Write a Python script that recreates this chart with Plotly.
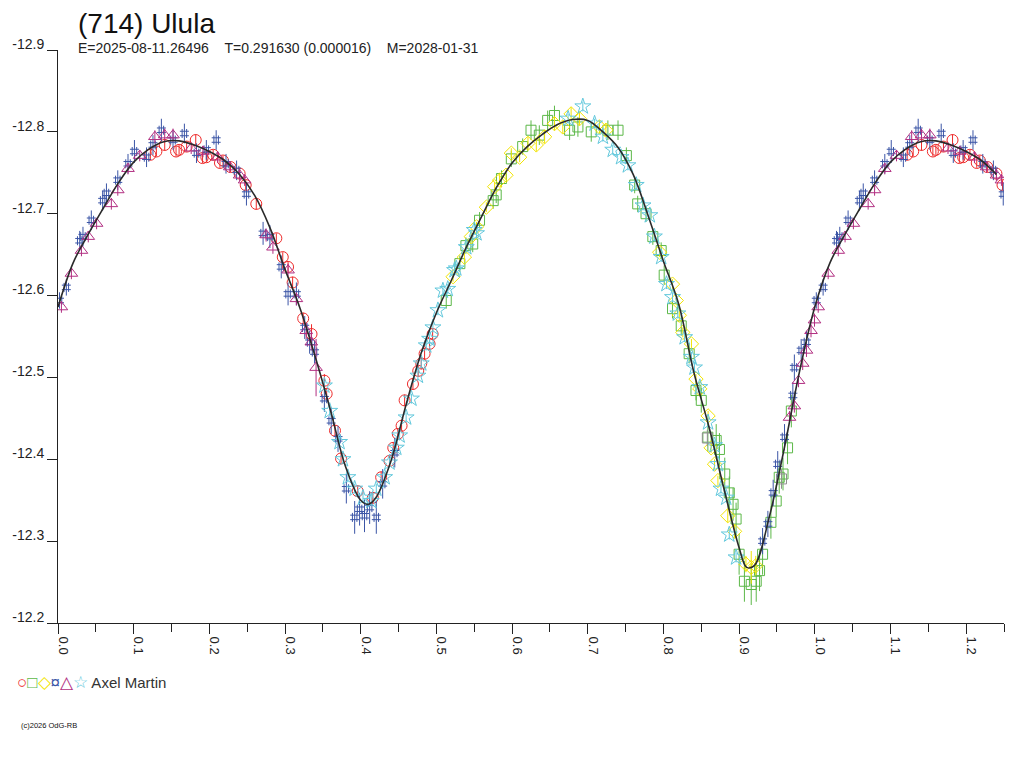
import plotly.graph_objects as go

# session 1 - red circles
red_phase = [0.122, 0.130, 0.141, 0.156, 0.160, 0.170, 0.182, 0.191, 0.196, 0.205,
             0.214, 0.218, 0.228, 0.240, 0.248, 0.262, 0.2885, 0.297, 0.304, 0.310,
             0.324, 0.335, 0.352, 0.355, 0.366, 0.374, 0.396, 0.416, 0.427, 0.438,
             0.443, 0.449, 0.454, 0.458, 0.469, 0.476, 0.480, 0.4844, 0.491, 0.495]
red_mag = [-12.772, -12.776, -12.784, -12.776, -12.778, -12.782, -12.790, -12.768, -12.769, -12.772,
           -12.762, -12.765, -12.757, -12.749, -12.735, -12.712, -12.670, -12.647, -12.635, -12.616,
           -12.572, -12.553, -12.496, -12.480, -12.435, -12.401, -12.361, -12.353, -12.378, -12.398,
           -12.414, -12.431, -12.441, -12.472, -12.492, -12.508, -12.517, -12.529, -12.541, -12.553]
red_err = [0.006, 0.006, 0.007, 0.006, 0.006, 0.006, 0.007, 0.006, 0.006, 0.006,
           0.006, 0.006, 0.006, 0.006, 0.006, 0.007, 0.006, 0.006, 0.006, 0.007,
           0.007, 0.012, 0.008, 0.007, 0.007, 0.007, 0.007, 0.007, 0.007, 0.007,
           0.007, 0.007, 0.007, 0.007, 0.007, 0.007, 0.007, 0.007, 0.007, 0.007]

# session 2 - green squares
green_phase = [0.513, 0.531, 0.539, 0.548, 0.557, 0.575, 0.579, 0.586, 0.599, 0.614,
               0.625, 0.636, 0.647, 0.656, 0.676, 0.687, 0.7046, 0.7266, 0.740, 0.751,
               0.762, 0.766, 0.777, 0.786, 0.797, 0.801, 0.812, 0.8235, 0.834, 0.843,
               0.850, 0.8587, 0.8697, 0.874, 0.881, 0.887, 0.892, 0.896, 0.900, 0.907,
               0.916, 0.9226, 0.927, 0.931, 0.942, 0.949, 0.953, 0.958, 0.964, 0.969]
green_mag = [-12.594, -12.639, -12.661, -12.663, -12.692, -12.716, -12.723, -12.743, -12.767, -12.782,
             -12.802, -12.796, -12.814, -12.820, -12.802, -12.806, -12.800, -12.802, -12.802, -12.771,
             -12.735, -12.712, -12.700, -12.672, -12.655, -12.625, -12.584, -12.563, -12.529, -12.484,
             -12.472, -12.427, -12.423, -12.412, -12.382, -12.359, -12.345, -12.327, -12.284, -12.251,
             -12.247, -12.251, -12.264, -12.284, -12.323, -12.349, -12.378, -12.382, -12.414, -12.459]
green_err = [0.010, 0.010, 0.010, 0.010, 0.010, 0.010, 0.010, 0.010, 0.010, 0.010,
             0.012, 0.012, 0.012, 0.012, 0.012, 0.012, 0.012, 0.012, 0.012, 0.010,
             0.010, 0.010, 0.010, 0.010, 0.010, 0.012, 0.012, 0.012, 0.012, 0.012,
             0.015, 0.018, 0.020, 0.020, 0.020, 0.020, 0.020, 0.020, 0.025, 0.025,
             0.025, 0.025, 0.025, 0.025, 0.020, 0.020, 0.020, 0.020, 0.020, 0.020]

# session 3 - yellow diamonds
yellow_phase = [0.522, 0.537, 0.546, 0.553, 0.566, 0.577, 0.5835, 0.592, 0.599, 0.610,
                0.621, 0.632, 0.643, 0.656, 0.667, 0.678, 0.689, 0.7155, 0.724, 0.795,
                0.812, 0.817, 0.821, 0.8256, 0.837, 0.843, 0.848, 0.859, 0.863, 0.8675,
                0.872, 0.885, 0.894, 0.909, 0.916, 0.922]
yellow_mag = [-12.623, -12.647, -12.672, -12.684, -12.708, -12.733, -12.741, -12.747, -12.774, -12.769,
              -12.786, -12.784, -12.794, -12.810, -12.806, -12.822, -12.816, -12.806, -12.802, -12.653,
              -12.614, -12.594, -12.576, -12.555, -12.541, -12.498, -12.486, -12.453, -12.414, -12.394,
              -12.374, -12.331, -12.312, -12.272, -12.268, -12.270]
yellow_err = [0.006, 0.006, 0.006, 0.006, 0.006, 0.006, 0.006, 0.006, 0.006, 0.006,
              0.008, 0.008, 0.008, 0.008, 0.008, 0.008, 0.008, 0.008, 0.008, 0.006,
              0.006, 0.006, 0.006, 0.006, 0.006, 0.006, 0.006, 0.006, 0.006, 0.006,
              0.006, 0.008, 0.008, 0.010, 0.020, 0.012]

# session 4 - blue
blue_phase = [0.002, 0.011, 0.0287, 0.033, 0.044, 0.059, 0.064, 0.079, 0.0925, 0.101,
              0.117, 0.1255, 0.1366, 0.152, 0.167, 0.183, 0.196, 0.209, 0.222, 0.236,
              0.249, 0.271, 0.280, 0.295, 0.304, 0.315, 0.326, 0.3325, 0.339, 0.352,
              0.361, 0.370, 0.381, 0.392, 0.3985, 0.405, 0.4118, 0.4206, 0.429, 0.445,
              0.931, 0.938, 0.945, 0.951, 0.960, 0.971, 0.973, 0.982, 0.989]
blue_mag = [-12.594, -12.610, -12.667, -12.672, -12.692, -12.716, -12.725, -12.741, -12.761, -12.776,
            -12.769, -12.784, -12.802, -12.790, -12.798, -12.774, -12.778, -12.790, -12.761, -12.753,
            -12.724, -12.676, -12.672, -12.635, -12.602, -12.602, -12.561, -12.543, -12.531, -12.474,
            -12.447, -12.425, -12.364, -12.329, -12.339, -12.331, -12.341, -12.329, -12.370, -12.408,
            -12.300, -12.321, -12.359, -12.394, -12.427, -12.478, -12.512, -12.533, -12.543]
blue_err = [0.010, 0.010, 0.012, 0.012, 0.012, 0.012, 0.012, 0.012, 0.012, 0.014,
            0.012, 0.012, 0.014, 0.012, 0.012, 0.012, 0.012, 0.012, 0.012, 0.012,
            0.014, 0.014, 0.014, 0.014, 0.014, 0.014, 0.014, 0.014, 0.014, 0.016,
            0.016, 0.016, 0.018, 0.020, 0.020, 0.020, 0.020, 0.020, 0.018, 0.018,
            0.016, 0.016, 0.016, 0.016, 0.016, 0.016, 0.016, 0.014, 0.014]

# session 5 - purple triangles
purple_phase = [0.0045, 0.0177, 0.031, 0.040, 0.051, 0.0705, 0.079, 0.0925, 0.108, 0.128,
                0.141, 0.152, 0.176, 0.1915, 0.211, 0.227, 0.240, 0.2466, 0.275, 0.284,
                0.304, 0.315, 0.328, 0.3347, 0.341, 0.9666, 0.973, 0.9785, 0.984, 0.989,
                0.995, 0.9996]
purple_mag = [-12.586, -12.627, -12.655, -12.672, -12.688, -12.712, -12.729, -12.755, -12.771, -12.794,
              -12.796, -12.796, -12.780, -12.776, -12.769, -12.757, -12.747, -12.741, -12.674, -12.659,
              -12.631, -12.596, -12.557, -12.543, -12.512, -12.451, -12.465, -12.496, -12.517, -12.533,
              -12.557, -12.570]
purple_err = [0.007, 0.007, 0.007, 0.007, 0.007, 0.007, 0.007, 0.007, 0.007, 0.008,
              0.008, 0.008, 0.007, 0.007, 0.007, 0.007, 0.007, 0.007, 0.008, 0.008,
              0.008, 0.008, 0.010, 0.010, 0.035, 0.008, 0.008, 0.008, 0.008, 0.008,
              0.008, 0.008]

# session 6 - cyan stars
cyan_phase = [0.352, 0.359, 0.372, 0.3765, 0.383, 0.392, 0.403, 0.414, 0.4206, 0.4316,
              0.438, 0.447, 0.4514, 0.460, 0.467, 0.4756, 0.480, 0.4866, 0.491, 0.4954,
              0.502, 0.5086, 0.515, 0.524, 0.5263, 0.5395, 0.550, 0.553, 0.674, 0.6935,
              0.709, 0.720, 0.733, 0.744, 0.753, 0.764, 0.773, 0.782, 0.788, 0.797,
              0.804, 0.812, 0.819, 0.828, 0.837, 0.841, 0.848, 0.859, 0.8675, 0.872,
              0.876, 0.883, 0.887, 0.896]
cyan_mag = [-12.490, -12.459, -12.421, -12.400, -12.378, -12.364, -12.353, -12.349, -12.364, -12.378,
            -12.396, -12.414, -12.429, -12.451, -12.474, -12.502, -12.517, -12.539, -12.547, -12.561,
            -12.582, -12.606, -12.608, -12.631, -12.633, -12.659, -12.680, -12.676, -12.816, -12.831,
            -12.810, -12.794, -12.778, -12.769, -12.759, -12.735, -12.710, -12.698, -12.672, -12.647,
            -12.614, -12.598, -12.578, -12.549, -12.525, -12.512, -12.488, -12.445, -12.417, -12.394,
            -12.364, -12.353, -12.308, -12.280]
cyan_err = [0.006] * len(cyan_phase)

# a few grey squares
grey_phase = [0.858, 0.956]
grey_mag = [-12.426, -12.376]
grey_err = [0.010, 0.012]

# fitted curve
fit_phase = [0.00, 0.02, 0.04, 0.06, 0.08, 0.10, 0.12, 0.14, 0.16, 0.18,
             0.20, 0.22, 0.24, 0.26, 0.28, 0.30, 0.32, 0.34, 0.36, 0.38,
             0.40, 0.41, 0.42, 0.44, 0.46, 0.48, 0.50, 0.52, 0.54, 0.56,
             0.58, 0.60, 0.62, 0.64, 0.66, 0.68, 0.70, 0.72, 0.74, 0.76,
             0.78, 0.80, 0.82, 0.84, 0.86, 0.88, 0.90, 0.91, 0.92, 0.94,
             0.96, 0.98, 1.00]
fit_mag = [-12.586, -12.640, -12.675, -12.707, -12.738, -12.763, -12.779, -12.788, -12.789, -12.784,
           -12.776, -12.765, -12.748, -12.722, -12.683, -12.632, -12.584, -12.525, -12.460, -12.391,
           -12.350, -12.345, -12.353, -12.398, -12.467, -12.530, -12.579, -12.619, -12.660, -12.697,
           -12.733, -12.762, -12.782, -12.797, -12.809, -12.815, -12.814, -12.800, -12.781, -12.748,
           -12.697, -12.642, -12.590, -12.507, -12.440, -12.364, -12.292, -12.268, -12.270, -12.330,
           -12.415, -12.508, -12.586]

y_ticks = [-12.9, -12.8, -12.7, -12.6, -12.5, -12.4, -12.3, -12.2]
y_labels = ['-12.9', '-12.8', '-12.7', '-12.6', '-12.5', '-12.4', '-12.3', '-12.2']

X_MAX = 1.25
# page body has an 8px margin, so the figure is 1008x752 placed at (8, 8)
OFF = 8
W, H = 1008, 752
L, R, T, B = 58 - OFF, W - (1004 - OFF), 50 - OFF, H - (623 - OFF)


def wrap(ph, mg, er):
    # the part of the cycle past phase 1.0 is shown again
    xs, ys, es = list(ph), list(mg), list(er)
    for p, m, e in zip(ph, mg, er):
        if p + 1 <= X_MAX:
            xs.append(p + 1)
            ys.append(m)
            es.append(e)
    return xs, ys, es


sessions = [
    (red_phase, red_mag, red_err, 'circle-open', '#ee2a2a', 11),
    (green_phase, green_mag, green_err, 'square-open', '#5cb848', 10),
    (yellow_phase, yellow_mag, yellow_err, 'diamond-open', '#f2e400', 11),
    (blue_phase, blue_mag, blue_err, 'hash-open', '#3b55a6', 9),
    (purple_phase, purple_mag, purple_err, 'triangle-up-open', '#b22f82', 11),
    (cyan_phase, cyan_mag, cyan_err, 'star-open', '#62c8dc', 12),
    (grey_phase, grey_mag, grey_err, 'square-open', '#909090', 10),
]

fig = go.Figure()
for ph, mg, er, sym, col, sz in sessions:
    xs, ys, es = wrap(ph, mg, er)
    fig.add_trace(go.Scatter(
        x=xs, y=ys, mode='markers',
        marker=dict(symbol=sym, color=col, size=sz, line=dict(width=1, color=col)),
        error_y=dict(type='data', array=es, color=col, thickness=1, width=0),
        hoverinfo='skip'))

fx = list(fit_phase) + [p + 1 for p in fit_phase if 0 < p and p + 1 <= X_MAX]
fy = list(fit_mag) + [m for p, m in zip(fit_phase, fit_mag) if 0 < p and p + 1 <= X_MAX]
fig.add_trace(go.Scatter(x=fx, y=fy, mode='lines', hoverinfo='skip',
                         line=dict(color='#2a2a2a', width=1.6, shape='spline')))


def px(x, y):
    # screen pixel -> paper coords
    x, y = x - OFF, y - OFF
    return (x - L) / (W - L - R), (H - B - y) / (H - T - B)


annotations = []
tx, ty = px(77, 23)
annotations.append(dict(x=tx, y=ty, text='(714) Ulula', font=dict(size=28, color='#111')))
tx, ty = px(77, 48)
annotations.append(dict(x=tx, y=ty, font=dict(size=14, color='#222'),
                        text='E=2025-08-11.26496&nbsp;&nbsp;&nbsp;&nbsp;T=0.291630 (0.000016)&nbsp;&nbsp;&nbsp;&nbsp;M=2028-01-31'))
tx, ty = px(16, 683)
legend_text = ('<span style="font-size:17px"><span style="color:#ee2a2a">○</span><span style="color:#5cb848">□</span>'
               '<span style="color:#f2e400">◇</span><span style="color:#3b55a6">¤</span>'
               '<span style="color:#b22f82">△</span><span style="color:#62c8dc">☆</span></span> Axel Martin')
annotations.append(dict(x=tx, y=ty, text=legend_text, font=dict(size=15, color='#333')))
tx, ty = px(20, 725)
annotations.append(dict(x=tx, y=ty, text='(c)2026 OdG-RB', font=dict(size=7.5, color='#111')))
for a in annotations:
    a.update(xref='paper', yref='paper', xanchor='left', yanchor='middle', showarrow=False,
             borderpad=0)

fig.update_layout(
    width=W, height=H,
    margin=dict(l=L, r=R, t=T, b=B, autoexpand=False),
    paper_bgcolor='white', plot_bgcolor='white',
    showlegend=False,
    font=dict(family='Liberation Sans, Arial, sans-serif', color='#222'),
    annotations=annotations,
    xaxis=dict(range=[0, X_MAX], tick0=0, dtick=0.1, tickformat='.1f', tickangle=90,
               ticks='outside', ticklen=10, tickcolor='#222', showline=True, linecolor='#222',
               showgrid=False, zeroline=False, tickfont=dict(size=13), ticklabelshift=5,
               automargin=False,
               minor=dict(dtick=0.05, ticks='outside', ticklen=8, tickcolor='#222', showgrid=False)),
    yaxis=dict(range=[-12.2, -12.9], tickvals=y_ticks, ticktext=y_labels,
               ticks='outside', ticklen=10, tickcolor='#222', showline=True, linecolor='#222',
               showgrid=False, zeroline=False, tickfont=dict(size=14), ticklabelshift=6,
               ticklabelstandoff=0, automargin=False),
)

fig.write_html("out.html")
